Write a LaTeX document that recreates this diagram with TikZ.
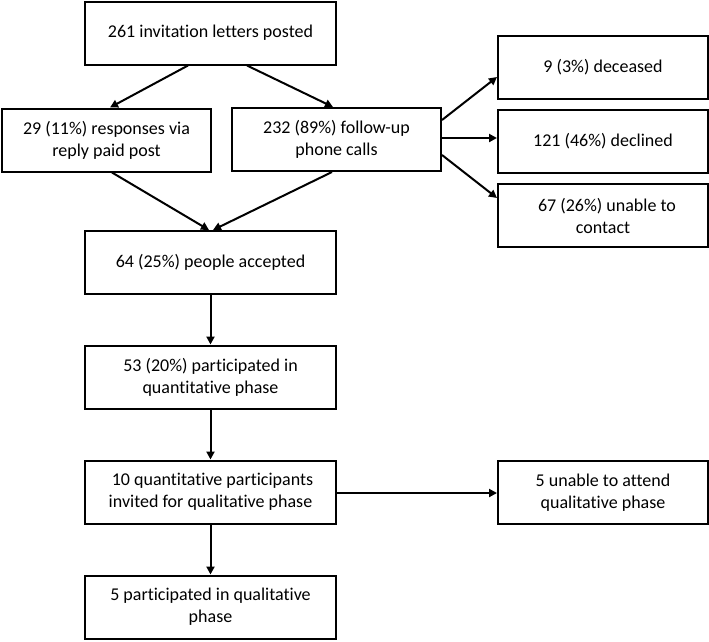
\documentclass[tikz,border=0pt]{standalone}
\usepackage{fontspec}
\setmainfont{Carlito}[Ligatures={NoCommon,NoContextual}]
\usetikzlibrary{arrows.meta}
\begin{document}
\begin{tikzpicture}[x=1pt,y=-1pt,
  box/.style={draw, line width=2pt, minimum width=#1, minimum height=63pt, inner sep=0pt, align=center, font=\fontsize{18}{22}\selectfont},
  box/.default=251pt,
  arr/.style={line width=2pt, -{Triangle[length=8pt,width=8pt]}}]
\useasboundingbox (0,0) rectangle (709,641);
\node[box] (a) at (210.5,33) {261 invitation letters posted};
\node[box=209pt] (b) at (106.5,140) {29 (11\%) responses via\\reply paid post};
\node[box=209pt] (c) at (336.5,139.5) {232 (89\%) follow-up\\phone calls};
\node[box=210pt] (d) at (603,67.5) {9 (3\%) deceased};
\node[box=210pt] (e) at (603,141.5) {121 (46\%) declined};
\node[box=210pt] (f) at (603,215.5) {\hspace*{8pt}67 (26\%) unable to\\contact};
\node[box] (g) at (210.5,262.5) {64 (25\%) people accepted};
\node[box] (h) at (210.5,377) {53 (20\%) participated in\\quantitative phase};
\node[box] (i) at (210.5,492) {\hspace*{4pt}10 quantitative participants\\invited for qualitative phase};
\node[box=210pt] (j) at (603,492.5) {5 unable to attend\\qualitative phase};
\node[box] (k) at (210.5,607) {5 participated in qualitative\\phase};
\draw[arr] (a.south -| 188,0) -- (b.north -| 110,0);
\draw[arr] (a.south -| 247,0) -- (c.north -| 333,0);
\draw[arr] (b.south -| 112,0) -- (g.north -| 209,0);
\draw[arr] (c.south -| 332,0) -- (g.north -| 213,0);
\draw[arr] (c.east |- 0,120) -- (d.west |- 0,77);
\draw[arr] (c.east |- 0,138) -- (e.west |- 0,138);
\draw[arr] (c.east |- 0,155) -- (f.west |- 0,198);
\draw[arr] (g.south) -- (h.north);
\draw[arr] (h.south) -- (i.north);
\draw[arr] (i.south) -- (k.north);
\draw[arr] (i.east |- 0,493) -- (j.west |- 0,493);
\end{tikzpicture}
\end{document}
